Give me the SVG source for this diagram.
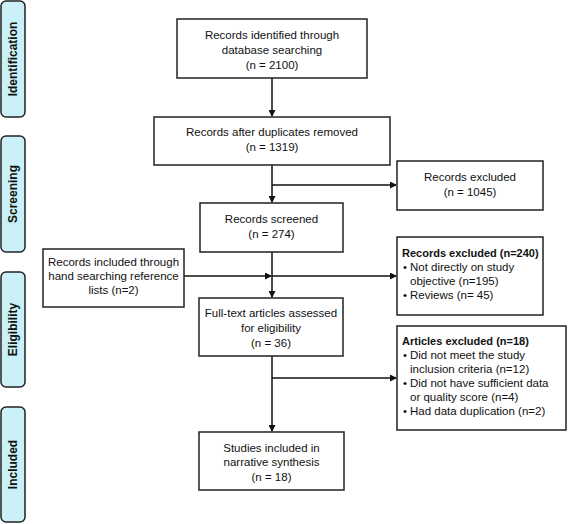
<svg xmlns="http://www.w3.org/2000/svg" width="568" height="524" viewBox="0 0 568 524">
<defs>
<marker id="ah" markerWidth="7" markerHeight="7" refX="6" refY="3.5" orient="auto" markerUnits="userSpaceOnUse">
<path d="M0,0 L7,3.5 L0,7 Z" fill="#111"/>
</marker>
<style>
.side{fill:#c9f1f7;stroke:#222;stroke-width:1.5}
.box{fill:#fff;stroke:#222;stroke-width:1.5}
.lbl{font-family:"Liberation Sans",Arial,sans-serif;font-size:12px;font-weight:bold;fill:#111;text-anchor:middle}
.t{font-family:"Liberation Sans",Arial,sans-serif;font-size:11.5px;fill:#111;text-anchor:middle}
.tl{font-family:"Liberation Sans",Arial,sans-serif;font-size:11.5px;fill:#111}
.b{font-weight:bold;font-size:11px}
.ln{fill:none;stroke:#111;stroke-width:1.5}
</style>
</defs>
<g id="stage-identification"><rect class="side" x="1" y="1" width="24" height="116" rx="5"/><text class="lbl" transform="translate(17,59) rotate(-90)">Identification</text></g>
<g id="stage-screening"><rect class="side" x="1" y="136" width="24" height="116" rx="5"/><text class="lbl" transform="translate(17,194) rotate(-90)">Screening</text></g>
<g id="stage-eligibility"><rect class="side" x="1" y="272" width="24" height="115" rx="5"/><text class="lbl" transform="translate(17,329.5) rotate(-90)">Eligibility</text></g>
<g id="stage-included"><rect class="side" x="1" y="407" width="24" height="115" rx="5"/><text class="lbl" transform="translate(17,464.5) rotate(-90)">Included</text></g>

<g id="connectors">
<path class="ln" d="M272,78 V116" marker-end="url(#ah)"/>
<path class="ln" d="M272,165 V202" marker-end="url(#ah)"/>
<path class="ln" d="M272,185 H396" marker-end="url(#ah)"/>
<path class="ln" d="M272,252 V297" marker-end="url(#ah)"/>
<path class="ln" d="M184,276 H271" marker-end="url(#ah)"/>
<path class="ln" d="M272,276 H396" marker-end="url(#ah)"/>
<path class="ln" d="M272,356 V431" marker-end="url(#ah)"/>
<path class="ln" d="M272,378 H396" marker-end="url(#ah)"/>
</g>

<g id="identified"><rect class="box" x="177" y="19" width="190" height="59"/>
<text class="t" x="272" y="39">Records identified through</text>
<text class="t" x="272" y="54">database searching</text>
<text class="t" x="272" y="69">(n = 2100)</text></g>

<g id="dedup"><rect class="box" x="154" y="117" width="236" height="48"/>
<text class="t" x="272" y="136">Records after duplicates removed</text>
<text class="t" x="272" y="151">(n = 1319)</text></g>

<g id="excluded-1045"><rect class="box" x="397" y="161" width="146" height="49"/>
<text class="t" x="470" y="181">Records excluded</text>
<text class="t" x="470" y="196">(n = 1045)</text></g>

<g id="screened"><rect class="box" x="200" y="203" width="143" height="49"/>
<text class="t" x="271.5" y="223">Records screened</text>
<text class="t" x="271.5" y="238">(n = 274)</text></g>

<g id="hand-search"><rect class="box" x="43" y="249" width="141" height="58"/>
<text class="t" x="113.5" y="266">Records included through</text>
<text class="t" x="113.5" y="280">hand searching reference</text>
<text class="t" x="113.5" y="294">lists (n=2)</text></g>

<g id="excluded-240"><rect class="box" x="397" y="237" width="146" height="78"/>
<text class="tl b" x="402" y="257">Records excluded (n=240)</text>
<text class="tl" x="403" y="271">•</text><text class="tl" x="410" y="271">Not directly on study</text>
<text class="tl" x="410" y="285">objective (n=195)</text>
<text class="tl" x="403" y="299">•</text><text class="tl" x="410" y="299">Reviews (n= 45)</text></g>

<g id="fulltext"><rect class="box" x="199" y="298" width="144" height="58"/>
<text class="t" x="271" y="317">Full-text articles assessed</text>
<text class="t" x="271" y="332">for eligibility</text>
<text class="t" x="271" y="347">(n = 36)</text></g>

<g id="excluded-18"><rect class="box" x="397" y="326" width="169" height="104"/>
<text class="tl b" x="402" y="345">Articles excluded (n=18)</text>
<text class="tl" x="403" y="359">•</text><text class="tl" x="410" y="359">Did not meet the study</text>
<text class="tl" x="410" y="373">inclusion criteria (n=12)</text>
<text class="tl" x="403" y="387">•</text><text class="tl" x="410" y="387">Did not have sufficient data</text>
<text class="tl" x="410" y="401">or quality score (n=4)</text>
<text class="tl" x="403" y="415">•</text><text class="tl" x="410" y="415">Had data duplication (n=2)</text></g>

<g id="included"><rect class="box" x="199" y="432" width="145" height="58"/>
<text class="t" x="271.5" y="452">Studies included in</text>
<text class="t" x="271.5" y="466">narrative synthesis</text>
<text class="t" x="271.5" y="481">(n = 18)</text></g>
</svg>
